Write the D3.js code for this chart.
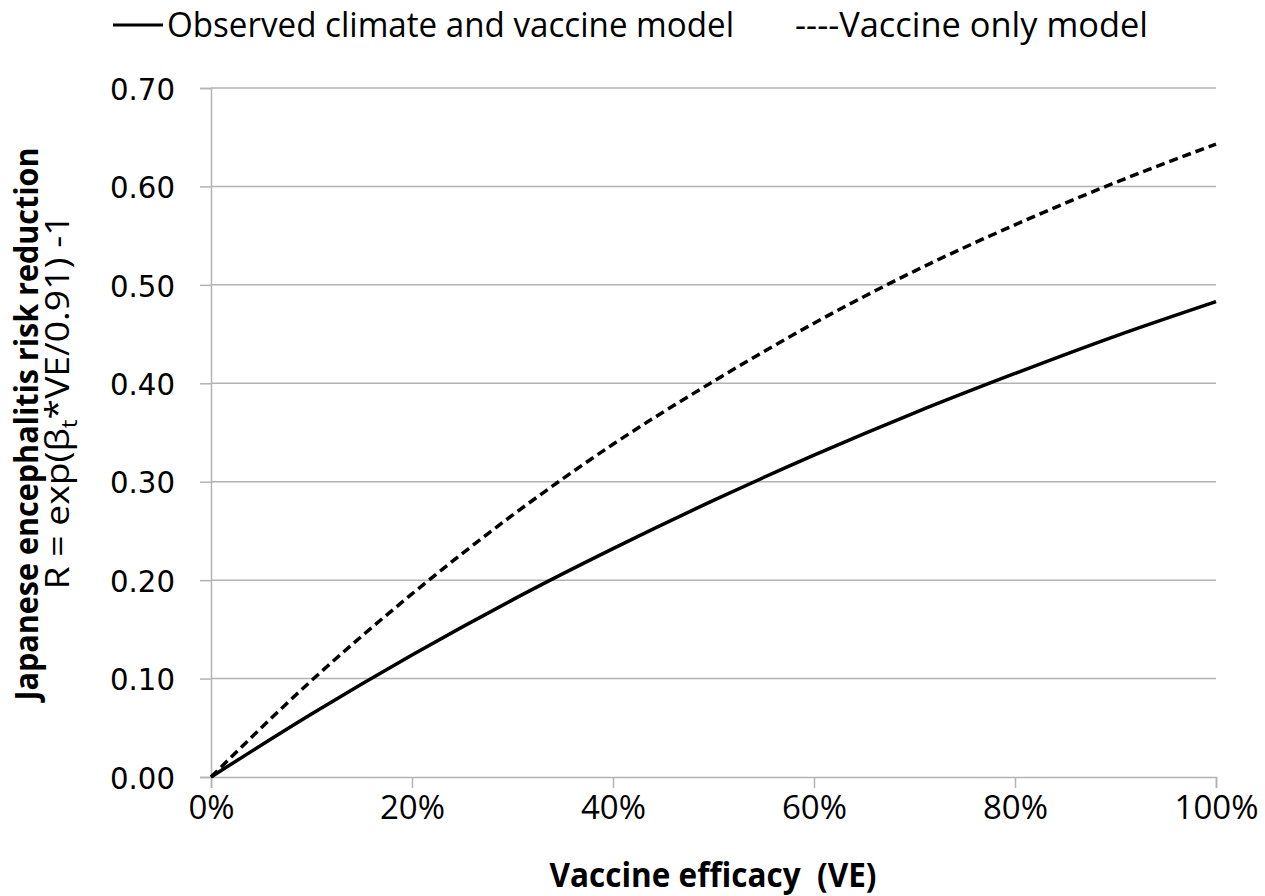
<!DOCTYPE html>
<html>
<head>
<meta charset="utf-8">
<script src="https://cdn.jsdelivr.net/npm/d3@7"></script>
<style>
  body { margin: 0; background: #fff; }
  svg { display: block; }
  text { white-space: pre; }
</style>
</head>
<body>
<section></section>
<script>
// values
var efficacy = [0, 0.1, 0.2, 0.3, 0.4, 0.5, 0.6, 0.7, 0.8, 0.9, 1.0];
var climateVaccine = [0, 0.064, 0.124, 0.180, 0.232, 0.281, 0.327, 0.370, 0.410, 0.448, 0.483];
var vaccineOnly = [0, 0.098, 0.186, 0.266, 0.338, 0.402, 0.461, 0.514, 0.561, 0.604, 0.643];
var xTicks = [0, 0.2, 0.4, 0.6, 0.8, 1.0];
var yTicks = [0, 0.1, 0.2, 0.3, 0.4, 0.5, 0.6, 0.7];

var width = 1265,
	height = 896;

//plot area (don't call it "top", that's window.top)
var plotLeft = 211, plotRight = 1216, plotTop = 88, plotBottom = 777;
var grey = '#b3b3b3';
var calibri = '"Open Sans", "Noto Sans", sans-serif';

var svg = d3.select('section')
	.append('svg')
	.attr('width', width)
	.attr('height', height);

var x = d3.scaleLinear().domain([0, 1]).range([plotLeft, plotRight]);
var y = d3.scaleLinear().domain([0, 0.7]).range([plotBottom, plotTop]);

//gridlines
svg.append('g')
	.selectAll('line')
	.data(yTicks.slice(1))
	.enter().append('line')
	.attr('x1', plotLeft).attr('x2', plotRight)
	.attr('y1', function(d) { return y(d); })
	.attr('y2', function(d) { return y(d); })
	.attr('stroke', grey)
	.attr('stroke-width', 1.5);

//y axis
var yAxis = svg.append('g')
	.attr('transform', 'translate(' + plotLeft + ',0)')
	.call(d3.axisLeft(y).tickValues(yTicks).tickSize(11).tickPadding(25).tickFormat(d3.format('.2f')));
yAxis.select('.domain').attr('stroke', grey).attr('stroke-width', 1.5);
yAxis.selectAll('.tick line').attr('stroke', grey).attr('stroke-width', 1.5);
yAxis.selectAll('.tick text')
	.attr('fill', '#000')
	.attr('textLength', 65).attr('lengthAdjust', 'spacingAndGlyphs')
	.style('font-family', '"DejaVu Sans", sans-serif')
	.style('font-size', '31px')
	.attr('dy', '0.36em');

//x axis
var xAxis = svg.append('g')
	.attr('transform', 'translate(0,' + plotBottom + ')')
	.call(d3.axisBottom(x).tickValues(xTicks).tickSize(11).tickPadding(8).tickFormat(d3.format('.0%')));
xAxis.select('.domain').attr('stroke', grey).attr('stroke-width', 1.5);
xAxis.selectAll('.tick line').attr('stroke', grey).attr('stroke-width', 1.5);
xAxis.selectAll('.tick text')
	.attr('fill', '#000')
	.style('font-family', calibri)
	.style('font-size', '33px')
	.attr('dy', '0.71em');

//lines
var line = d3.line()
	.x(function(d) { return x(d[0]); })
	.y(function(d) { return y(d[1]); })
	.curve(d3.curveMonotoneX);

svg.append('path')
	.datum(d3.zip(efficacy, vaccineOnly))
	.attr('d', line)
	.attr('fill', 'none')
	.attr('stroke', '#000')
	.attr('stroke-width', 3.5)
	.attr('stroke-dasharray', '9,5');

svg.append('path')
	.datum(d3.zip(efficacy, climateVaccine))
	.attr('d', line)
	.attr('fill', 'none')
	.attr('stroke', '#000')
	.attr('stroke-width', 3.5);

//legend
svg.append('line')
	.attr('x1', 113).attr('x2', 163)
	.attr('y1', 25).attr('y2', 25)
	.attr('stroke', '#000')
	.attr('stroke-width', 3);
svg.append('text')
	.attr('x', 167).attr('y', 37)
	.attr('textLength', 567).attr('lengthAdjust', 'spacingAndGlyphs')
	.style('font-family', calibri)
	.style('font-size', '34px')
	.text('Observed climate and vaccine model');
svg.append('text')
	.attr('x', 795).attr('y', 37)
	.attr('textLength', 353).attr('lengthAdjust', 'spacingAndGlyphs')
	.style('font-family', calibri)
	.style('font-size', '34px')
	.text('----Vaccine only model');

//axis titles
svg.append('text')
	.attr('x', 713).attr('y', 887)
	.attr('text-anchor', 'middle')
	.attr('textLength', 327).attr('lengthAdjust', 'spacingAndGlyphs')
	.style('font-family', calibri)
	.style('font-weight', 'bold')
	.style('font-size', '34px')
	.text('Vaccine efficacy  (VE)');

svg.append('text')
	.attr('transform', 'translate(38,424) rotate(-90)')
	.attr('text-anchor', 'middle')
	.attr('textLength', 553).attr('lengthAdjust', 'spacingAndGlyphs')
	.style('font-family', calibri)
	.style('font-weight', 'bold')
	.style('font-size', '33px')
	.text('Japanese encephalitis risk reduction');

var sub = svg.append('text')
	.attr('transform', 'translate(69,402) rotate(-90)')
	.attr('text-anchor', 'middle')
	.attr('textLength', 375).attr('lengthAdjust', 'spacingAndGlyphs')
	.style('font-family', calibri)
	.style('font-size', '32px');
sub.append('tspan').text('R = exp(β');
sub.append('tspan').attr('dy', 8).style('font-size', '21px').text('t');
sub.append('tspan').attr('dy', -8).text('*VE/0.91) -1');
</script>
</body>
</html>
